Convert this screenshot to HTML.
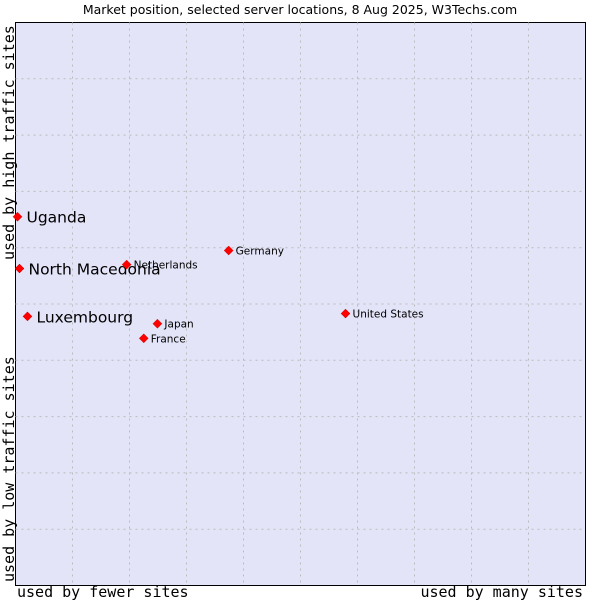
<!DOCTYPE html>
<html><head><meta charset="utf-8"><style>
body{margin:0;background:#fff;width:600px;height:600px;overflow:hidden}
svg{display:block}
</style></head><body>
<svg id="chart" width="600" height="600" xmlns="http://www.w3.org/2000/svg">
<text x="300" y="14" text-anchor="middle" font-family="DejaVu Sans, sans-serif" font-size="12.5" fill="#000">Market position, selected server locations, 8 Aug 2025, W3Techs.com</text>
<rect x="15.5" y="22.5" width="570" height="563" fill="#e3e4f8" stroke="#000"/>
<g id="grid"></g>
<text x="17" y="597" font-family="DejaVu Sans Mono, monospace" font-size="15">used by fewer sites</text>
<text x="583" y="597" text-anchor="end" font-family="DejaVu Sans Mono, monospace" font-size="15">used by many sites</text>
<text transform="translate(14,582) rotate(-90)" font-family="DejaVu Sans Mono, monospace" font-size="15">used by low traffic sites</text>
<text transform="translate(14,260) rotate(-90)" font-family="DejaVu Sans Mono, monospace" font-size="15">used by high traffic sites</text>
<g id="points"></g>
</svg>
<script>
const names = ["Uganda","North Macedonia","Luxembourg","Netherlands","Germany","United States","Japan","France"];
const xValues = [0.35,0.7,2.1,19.5,37.4,57.9,24.9,22.5];
const yValues = [65.5,56.3,47.8,57.0,59.5,48.3,46.5,43.9];
const highlighted = [true,true,true,false,false,false,false,false];
const NS="http://www.w3.org/2000/svg";
const L=15.5,T=22.5,W=570,H=563;
function sx(v){return L+v/100*W;}
function sy(v){return T+H-v/100*H;}
const grid=document.getElementById('grid');
for(let i=1;i<10;i++){
  const v=document.createElementNS(NS,'line');
  v.setAttribute('x1',L+i*W/10);v.setAttribute('x2',L+i*W/10);v.setAttribute('y1',T);v.setAttribute('y2',T+H);
  v.setAttribute('stroke','#bbb');v.setAttribute('stroke-dasharray','2,4');
  
  
  grid.appendChild(v);
  const h=document.createElementNS(NS,'line');
  h.setAttribute('y1',T+i*H/10);h.setAttribute('y2',T+i*H/10);h.setAttribute('x1',L);h.setAttribute('x2',L+W);
  h.setAttribute('stroke','#bbb');h.setAttribute('stroke-dasharray','2,4');
  
  
  grid.appendChild(h);
}
const pts=document.getElementById('points');
names.forEach((n,i)=>{
  const x=sx(xValues[i]),y=sy(yValues[i]);
  const d=document.createElementNS(NS,'path');
  d.setAttribute('d',`M${x} ${y-4.5}L${x+4.5} ${y}L${x} ${y+4.5}L${x-4.5} ${y}Z`);
  d.setAttribute('fill','#f00');d.setAttribute('stroke','#c00');d.setAttribute('stroke-width','0.5');
  
  
  pts.appendChild(d);
  const t=document.createElementNS(NS,'text');
  const big=highlighted[i];
  t.setAttribute('x',x+(big?9:7));t.setAttribute('y',y+(big?6:4));
  t.setAttribute('font-family','DejaVu Sans, sans-serif');
  t.setAttribute('font-size',big?'15.5':'10.5');
  t.textContent=n;
  
  
  pts.appendChild(t);
});
</script>
</body></html>
